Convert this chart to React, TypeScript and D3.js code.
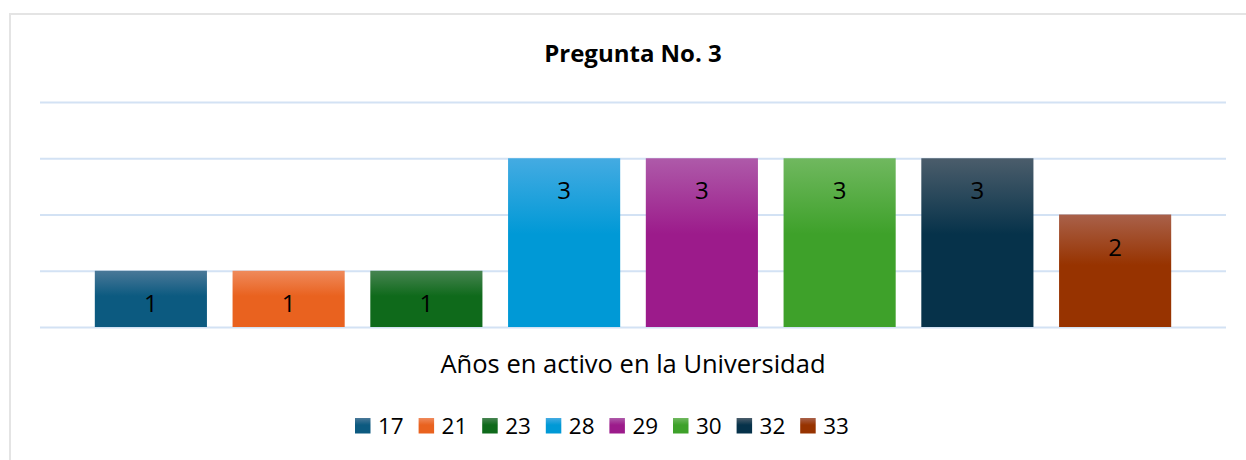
import { useEffect, useRef } from "react";
import * as d3 from "d3";

const categories = ["17", "21", "23", "28", "29", "30", "32", "33"];
const values = [1, 1, 1, 3, 3, 3, 3, 2];
const baseColors = ["#0c5a80", "#e9621f", "#0f6a1b", "#0099d6", "#9c1b8b", "#3ea12a", "#06324a", "#973300"];
const topColors = ["#4a7898", "#ef8a5c", "#478451", "#44abe2", "#ae5aa9", "#70b85f", "#4b5d6b", "#a9614a"];
const yTicks = [0, 1, 2, 3, 4];

const FONT = "'Open Sans', Lato, sans-serif";

export default function App() {
  const ref = useRef<HTMLDivElement>(null);

  useEffect(() => {
    const W = 1246;
    const H = 460;
    const plot = { left: 40, right: 1226, top: 102, bottom: 327 };

    const svg = d3
      .select(ref.current)
      .html("")
      .append("svg")
      .attr("width", W)
      .attr("height", H)
      .style("position", "absolute")
      .style("left", 0)
      .style("top", 0)
      .style("background", "#fff");

    const defs = svg.append("defs");
    categories.forEach((c, i) => {
      const g = defs
        .append("linearGradient")
        .attr("id", `grad${i}`)
        .attr("x1", 0)
        .attr("y1", 0)
        .attr("x2", 0)
        .attr("y2", 1);
      g.append("stop").attr("offset", "0%").attr("stop-color", topColors[i]);
      g.append("stop").attr("offset", "45%").attr("stop-color", baseColors[i]);
      g.append("stop").attr("offset", "100%").attr("stop-color", baseColors[i]);
    });

    // chart border (runs past the page edge)
    svg
      .append("rect")
      .attr("x", 10)
      .attr("y", 14)
      .attr("width", 1300)
      .attr("height", 500)
      .attr("fill", "none")
      .attr("stroke", "#e4e4e4")
      .attr("stroke-width", 2);

    const y = d3.scaleLinear().domain([0, 4]).range([plot.bottom, plot.top]);
    const x = d3
      .scaleBand<string>()
      .domain(categories)
      .range([82, 1184])
      .paddingInner(0.186)
      .paddingOuter(0.093);

    const grid = svg
      .append("g")
      .attr("transform", `translate(${plot.left},0)`)
      .call(
        d3
          .axisLeft(y)
          .tickValues(yTicks)
          .tickSize(-(plot.right - plot.left))
          .tickFormat(() => "")
      );
    grid.select(".domain").remove();
    grid.selectAll(".tick line").attr("stroke", "#d3e2f4").attr("stroke-width", 2);

    svg
      .append("g")
      .selectAll("rect")
      .data(values)
      .join("rect")
      .attr("x", (_, i) => x(categories[i])!)
      .attr("y", (d) => y(d))
      .attr("width", x.bandwidth())
      .attr("height", (d) => y(0) - y(d))
      .attr("fill", (_, i) => `url(#grad${i})`);

    svg
      .append("g")
      .selectAll("text")
      .data(values)
      .join("text")
      .attr("x", (_, i) => x(categories[i])! + x.bandwidth() / 2)
      .attr("y", (d) => y(d) + 41)
      .attr("text-anchor", "middle")
      .attr("font-family", FONT)
      .attr("font-size", 24)
      .attr("fill", "#000")
      .text((d) => d);

    svg
      .append("text")
      .attr("x", 633)
      .attr("y", 62)
      .attr("text-anchor", "middle")
      .attr("font-family", FONT)
      .attr("font-weight", "bold")
      .attr("font-size", 24)
      .attr("fill", "#000")
      .text("Pregunta No. 3");

    svg
      .append("text")
      .attr("x", 633)
      .attr("y", 373)
      .attr("text-anchor", "middle")
      .attr("font-family", FONT)
      .attr("font-size", 25.5)
      .attr("fill", "#000")
      .text("Años en activo en la Universidad");

    const legend = svg
      .append("g")
      .selectAll("g")
      .data(categories)
      .join("g")
      .attr("transform", (_, i) => `translate(${355 + i * 63.6},418)`);
    legend
      .append("rect")
      .attr("width", 15.5)
      .attr("height", 15.5)
      .attr("fill", (_, i) => `url(#grad${i})`);
    legend
      .append("text")
      .attr("x", 23)
      .attr("y", 16)
      .attr("font-family", FONT)
      .attr("font-size", 22.5)
      .attr("fill", "#000")
      .text((d) => d);
  }, []);

  return <div ref={ref} />;
}
